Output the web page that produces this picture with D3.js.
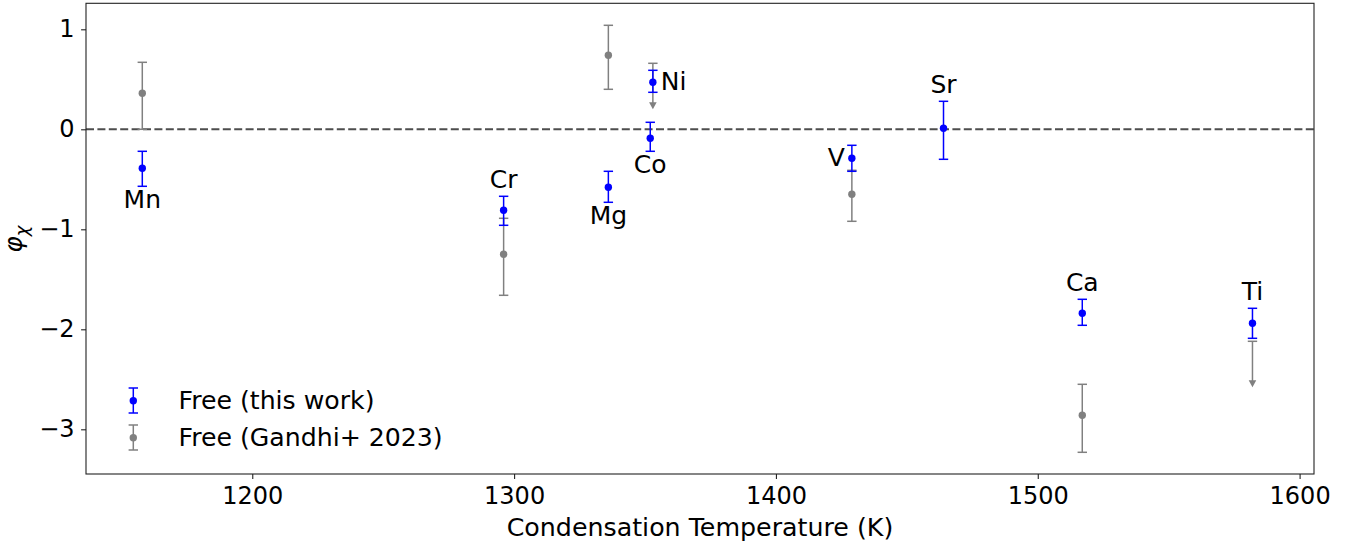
<!DOCTYPE html>
<html>
<head>
<meta charset="utf-8">
<script src="https://cdn.jsdelivr.net/npm/d3@7"></script>
<style>
    body { margin: 0; background: #fff; }
    text { font-family: "DejaVu Sans", sans-serif; fill: #000; }
</style>
</head>
<body>
<svg id="graph1"></svg>
<script>
var screen = {width: 1359, height: 544};
var margins = {top: 3.3, right: 45, bottom: 70, left: 86};

// elements and their 50% condensation temperatures (K)
var elements = ["Mn", "Cr", "Mg", "Co", "Ni", "V", "Sr", "Ca", "Ti"];
var condTemps = [1158, 1296, 1336, 1352, 1353, 1429, 1464, 1517, 1582];

// this work: phi and lower / upper errors
var thisWorkPhi   = [-0.39, -0.81, -0.58, -0.09, 0.47, -0.29, 0.01, -1.84, -1.94];
var thisWorkErrLo = [0.18, 0.15, 0.15, 0.13, 0.10, 0.13, 0.31, 0.12, 0.15];
var thisWorkErrHi = [0.17, 0.14, 0.16, 0.16, 0.12, 0.13, 0.27, 0.14, 0.15];

// Gandhi+ 2023 measurements
var gandhiElements = ["Mn", "Cr", "Mg", "V", "Ca"];
var gandhiPhi   = [0.36, -1.25, 0.74, -0.65, -2.86];
var gandhiErrLo = [0.36, 0.41, 0.34, 0.27, 0.37];
var gandhiErrHi = [0.31, 0.36, 0.30, 0.24, 0.31];

// Gandhi+ 2023 upper limits (limit value, arrow tip)
var limitElements = ["Ni", "Ti"];
var limitPhi = [0.66, -2.12];
var limitTip = [0.20, -2.58];

// where each name sits relative to the blue error bar
var labelSide = ["below", "above", "below", "below", "right", "left", "above", "above", "above"];

var xTicks = [1200, 1300, 1400, 1500, 1600];
var yTicks = [-3, -2, -1, 0, 1];

var blue = "#0000ff";
var grey = "#808080";
var capHalf = 4.7;
var dotR = 3.7;

var tempOf = function(el) { return condTemps[elements.indexOf(el)]; };

var setup = function()
{
    var svg = d3.select("#graph1")
        .attr("width", screen.width)
        .attr("height", screen.height);

    var width = screen.width - margins.left - margins.right;
    var height = screen.height - margins.top - margins.bottom;

    var xScale = d3.scaleLinear()
        .domain([1136.5, 1605.5])
        .range([margins.left, margins.left + width]);

    var yScale = d3.scaleLinear()
        .domain([-3.447, 1.26])
        .range([margins.top + height, margins.top]);

    // zero line
    svg.append("line")
        .attr("x1", xScale.range()[0])
        .attr("x2", xScale.range()[1])
        .attr("y1", yScale(0))
        .attr("y2", yScale(0))
        .attr("stroke", "#4d4d4d")
        .attr("stroke-width", 2)
        .attr("stroke-dasharray", "8,3.4");

    var xAxis = d3.axisBottom(xScale)
        .tickValues(xTicks)
        .tickFormat(d3.format("d"))
        .tickSize(4.9)
        .tickPadding(8.5);

    var yAxis = d3.axisLeft(yScale)
        .tickValues(yTicks)
        .tickFormat(d3.format("d"))
        .tickSize(4.9)
        .tickPadding(6.5);

    svg.append("g")
        .attr("id", "xAxis")
        .attr("transform", "translate(0," + (margins.top + height) + ")")
        .call(xAxis);

    svg.append("g")
        .attr("id", "yAxis")
        .attr("transform", "translate(" + margins.left + ",0)")
        .call(yAxis);

    svg.selectAll("#xAxis, #yAxis").select(".domain").remove();
    svg.selectAll(".tick line").attr("stroke", "#222").attr("stroke-width", 1.1);
    svg.selectAll(".tick text")
        .style("font-family", "DejaVu Sans")
        .style("font-size", "24px")
        .attr("fill", "#000");

    // frame
    svg.append("rect")
        .attr("x", margins.left)
        .attr("y", margins.top)
        .attr("width", width)
        .attr("height", height)
        .attr("fill", "none")
        .attr("stroke", "#222")
        .attr("stroke-width", 1.1);

    // axis titles
    svg.append("text")
        .attr("x", margins.left + width / 2)
        .attr("y", 536)
        .attr("text-anchor", "middle")
        .style("font-size", "25.3px")
        .text("Condensation Temperature (K)");

    var ylab = svg.append("text")
        .attr("transform", "translate(22," + (margins.top + height / 2 + 14) + ") rotate(-90)")
        .style("font-size", "25px")
        .style("font-style", "italic");
    ylab.append("tspan").text("φ");
    ylab.append("tspan").attr("dy", 6).style("font-size", "18px").text("χ");

    var gandhi = gandhiElements.map(function(el, i) {
        return {t: tempOf(el), y: gandhiPhi[i], lo: gandhiPhi[i] - gandhiErrLo[i], hi: gandhiPhi[i] + gandhiErrHi[i]};
    });
    var limits = limitElements.map(function(el, i) {
        return {t: tempOf(el), y: limitPhi[i], tip: limitTip[i]};
    });
    var ours = elements.map(function(el, i) {
        return {el: el, t: condTemps[i], y: thisWorkPhi[i],
                lo: thisWorkPhi[i] - thisWorkErrLo[i], hi: thisWorkPhi[i] + thisWorkErrHi[i],
                side: labelSide[i]};
    });

    drawLimits(svg, limits, xScale, yScale);
    drawErrorbars(svg, gandhi, grey, xScale, yScale);
    drawErrorbars(svg, ours, blue, xScale, yScale);
    drawLabels(svg, ours, xScale, yScale);
    drawLegend(svg);
}

var drawErrorbars = function(svg, data, colour, xScale, yScale)
{
    var g = svg.append("g").selectAll("g")
        .data(data)
        .enter()
        .append("g");

    g.append("line")
        .attr("x1", function(d) { return xScale(d.t); })
        .attr("x2", function(d) { return xScale(d.t); })
        .attr("y1", function(d) { return yScale(d.lo); })
        .attr("y2", function(d) { return yScale(d.hi); })
        .attr("stroke", colour)
        .attr("stroke-width", 1.5);

    ["lo", "hi"].forEach(function(k) {
        g.append("line")
            .attr("x1", function(d) { return xScale(d.t) - capHalf; })
            .attr("x2", function(d) { return xScale(d.t) + capHalf; })
            .attr("y1", function(d) { return yScale(d[k]); })
            .attr("y2", function(d) { return yScale(d[k]); })
            .attr("stroke", colour)
            .attr("stroke-width", 1.5);
    });

    g.append("circle")
        .attr("cx", function(d) { return xScale(d.t); })
        .attr("cy", function(d) { return yScale(d.y); })
        .attr("r", dotR)
        .attr("fill", colour);
}

var drawLimits = function(svg, data, xScale, yScale)
{
    var g = svg.append("g").selectAll("g")
        .data(data)
        .enter()
        .append("g");

    g.append("line")
        .attr("x1", function(d) { return xScale(d.t); })
        .attr("x2", function(d) { return xScale(d.t); })
        .attr("y1", function(d) { return yScale(d.y); })
        .attr("y2", function(d) { return yScale(d.tip) - 5; })
        .attr("stroke", grey)
        .attr("stroke-width", 1.5);

    g.append("line")
        .attr("x1", function(d) { return xScale(d.t) - capHalf; })
        .attr("x2", function(d) { return xScale(d.t) + capHalf; })
        .attr("y1", function(d) { return yScale(d.y); })
        .attr("y2", function(d) { return yScale(d.y); })
        .attr("stroke", grey)
        .attr("stroke-width", 1.5);

    // downward arrow head
    g.append("path")
        .attr("d", function(d) {
            var x = xScale(d.t), y = yScale(d.tip);
            return "M" + (x - 3.8) + "," + (y - 7) + "L" + (x + 3.8) + "," + (y - 7) + "L" + x + "," + y + "Z";
        })
        .attr("fill", grey);
}

var drawLabels = function(svg, data, xScale, yScale)
{
    svg.append("g").selectAll("text")
        .data(data)
        .enter()
        .append("text")
        .style("font-size", "25px")
        .attr("text-anchor", function(d) {
            if (d.side == "right") return "start";
            if (d.side == "left") return "end";
            return "middle";
        })
        .attr("x", function(d) {
            if (d.side == "right") return xScale(d.t) + 8;
            if (d.side == "left") return xScale(d.t) - 7;
            return xScale(d.t);
        })
        .attr("y", function(d) {
            if (d.side == "above") return yScale(d.hi) - 8;
            if (d.side == "below") return yScale(d.lo) + 21.7;
            return yScale(d.y) + 8;
        })
        .text(function(d) { return d.el; });
}

var drawLegend = function(svg)
{
    var items = [{label: "Free (this work)", colour: blue, y: 400.7},
                 {label: "Free (Gandhi+ 2023)", colour: grey, y: 437.7}];
    var g = svg.append("g").selectAll("g")
        .data(items)
        .enter()
        .append("g");

    g.append("line")
        .attr("x1", 133.3).attr("x2", 133.3)
        .attr("y1", function(d) { return d.y - 12.7; })
        .attr("y2", function(d) { return d.y + 12.3; })
        .attr("stroke", function(d) { return d.colour; })
        .attr("stroke-width", 1.5);
    [-12.7, 12.3].forEach(function(off) {
        g.append("line")
            .attr("x1", 133.3 - capHalf).attr("x2", 133.3 + capHalf)
            .attr("y1", function(d) { return d.y + off; })
            .attr("y2", function(d) { return d.y + off; })
            .attr("stroke", function(d) { return d.colour; })
            .attr("stroke-width", 1.5);
    });
    g.append("circle")
        .attr("cx", 133.3)
        .attr("cy", function(d) { return d.y; })
        .attr("r", dotR)
        .attr("fill", function(d) { return d.colour; });
    g.append("text")
        .attr("x", 178.5)
        .attr("y", function(d) { return d.y + 8.7; })
        .style("font-size", "25.2px")
        .text(function(d) { return d.label; });
}

setup();
</script>
</body>
</html>
